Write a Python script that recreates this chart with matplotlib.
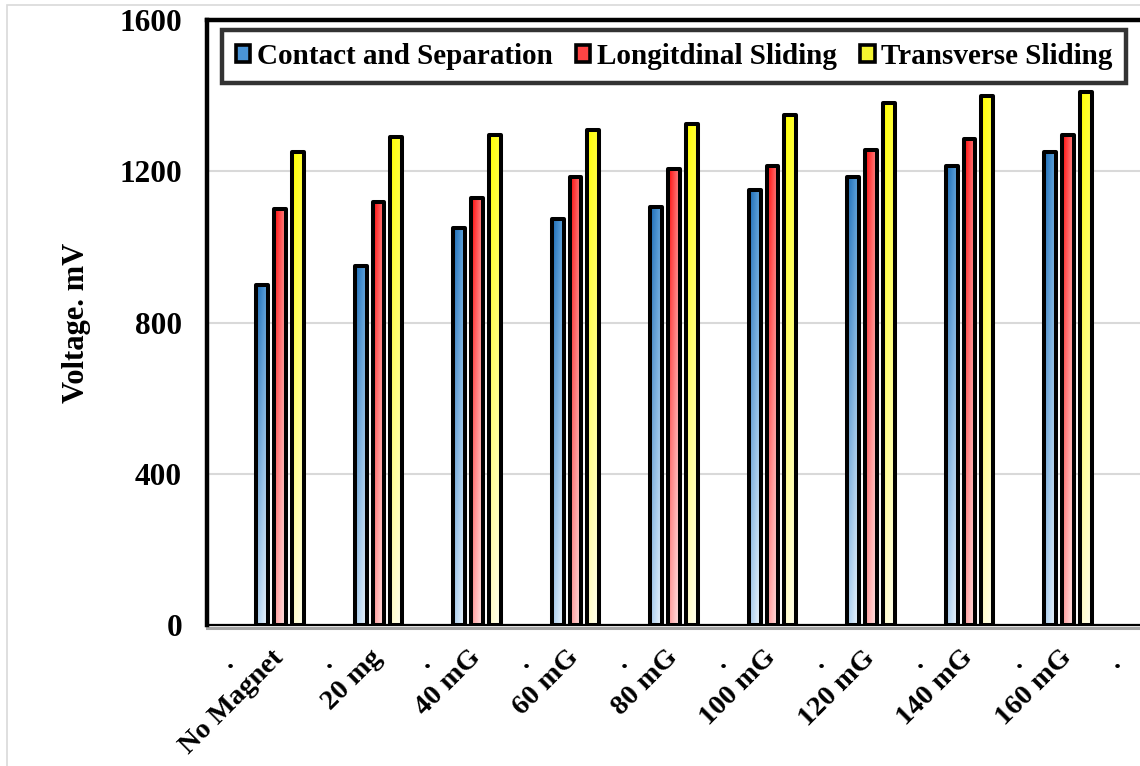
import numpy as np
import matplotlib
matplotlib.use('Agg')
import matplotlib.pyplot as plt
from matplotlib.patches import Patch, Rectangle
from matplotlib.colors import to_rgb

# Дані
categories = ['No Magnet', '20 mg', '40 mG', '60 mG', '80 mG', '100 mG', '120 mG', '140 mG', '160 mG']
series_names = ['Contact and Separation', 'Longitdinal Sliding', 'Transverse Sliding']
contact = [900, 950, 1050, 1075, 1105, 1150, 1185, 1215, 1250]
longitudinal = [1100, 1120, 1130, 1185, 1205, 1215, 1255, 1285, 1295]
transverse = [1250, 1290, 1295, 1310, 1325, 1350, 1380, 1400, 1410]
yticks = [0, 400, 800, 1200, 1600]

# Кольори градієнтів: (верх-ліво, верх-право, низ-ліво, низ-право)
grad_colors = [
    ('#1c6cb6', '#62a6de', '#a9cdee', '#eef6fd'),
    ('#ff0a0a', '#ff8585', '#ff9a9a', '#ffe6e6'),
    ('#ffff00', '#ffff3a', '#fffbc8', '#fffff0'),
]
legend_colors = ['#4a94d6', '#ff4444', '#f4f430']

plt.rcParams['font.family'] = ['Liberation Serif', 'DejaVu Serif']
plt.rcParams['font.weight'] = 'bold'

fig = plt.figure(figsize=(11.4, 7.66), dpi=100)
ax = fig.add_axes([207 / 1140, 141 / 766, 934 / 1140, 605 / 766])

# рамка навколо всієї картинки
fig.patches.append(Rectangle((7 / 1140, -0.1), 1.2, (761 / 766) + 0.1, transform=fig.transFigure,
                             fill=False, edgecolor='#d9d9d9', lw=1.2, zorder=0))


def gradient_image(cols, ny=64, nx=16):
    tl, tr, bl, br = [np.array(to_rgb(c)) for c in cols]
    t = np.linspace(0, 1, ny)[:, None, None]   # 0 низ, 1 верх
    s = np.linspace(0, 1, nx)[None, :, None]   # 0 ліво, 1 право
    top = tl + (tr - tl) * s
    bot = bl + (br - bl) * s
    return bot + (top - bot) * t


x = np.arange(len(categories))
width = 0.12
offsets = [-0.18, 0.0, 0.18]
all_values = [contact, longitudinal, transverse]

for vals, off, cols in zip(all_values, offsets, grad_colors):
    bars = ax.bar(x + off, vals, width, facecolor='none', edgecolor='black', linewidth=2.9, zorder=3)
    img = gradient_image(cols)
    for b in bars:
        b.set_joinstyle('round')
        x0 = b.get_x()
        im = ax.imshow(img, extent=[x0, x0 + b.get_width(), 0, b.get_height()], origin='lower',
                       aspect='auto', interpolation='bilinear', zorder=2)
        im.set_clip_path(b)

ax.set_xlim(-0.74, 8.74)
ax.set_ylim(0, 1600)

# сітка
ax.set_yticks(yticks)
ax.set_yticklabels([str(v) for v in yticks], fontsize=22.5, fontweight='bold')
ax.yaxis.grid(True, color='#d9d9d9', lw=1.5, zorder=0)
ax.set_axisbelow(True)
ax.tick_params(axis='y', length=0, pad=18)

# підписи осі X
ax.set_xticks(x)
ax.set_xticklabels(categories, fontsize=20.5, fontweight='bold', rotation=45, ha='right',
                   va='center', rotation_mode='anchor')
ax.set_xticks(np.arange(len(categories) + 1) - 0.5, minor=True)
ax.set_xticklabels(['.'] * (len(categories) + 1), minor=True, fontsize=20.5, fontweight='bold')
ax.tick_params(axis='x', which='major', length=0, pad=21)
ax.tick_params(axis='x', which='minor', length=0, pad=17)

ax.set_ylabel('Voltage. mV', fontsize=22, fontweight='bold', labelpad=20)

for side in ['left', 'top', 'bottom']:
    ax.spines[side].set_color('black')
ax.spines['left'].set_linewidth(3.2)
ax.spines['top'].set_linewidth(3.2)
ax.spines['bottom'].set_linewidth(1.6)
ax.spines['right'].set_visible(False)
ax.axhline(-7, color='#a6a6a6', lw=2.2, clip_on=False, zorder=1)

handles = [Patch(facecolor=c, edgecolor='black', linewidth=2.6) for c in legend_colors]
leg = ax.legend(handles, series_names, loc='upper center', bbox_to_anchor=(0.5, 0.9835), ncol=3,
                fontsize=21, frameon=True, fancybox=False, handlelength=0.5, handleheight=0.5,
                handletextpad=0.22, columnspacing=0.8, borderpad=0.45, borderaxespad=0)
leg.get_frame().set_edgecolor('black')
leg.get_frame().set_linewidth(3.2)
leg.set_zorder(5)

fig.savefig('out.png', dpi=100)
